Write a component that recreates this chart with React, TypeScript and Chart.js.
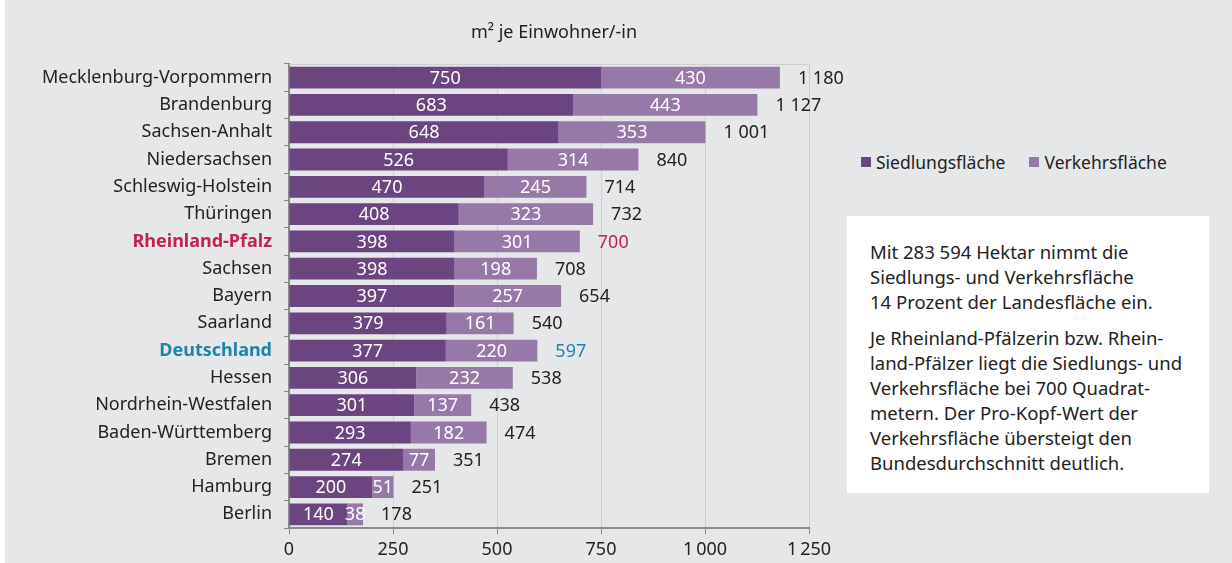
import React, { useEffect, useRef } from "react";
import { Chart, registerables } from "chart.js";

Chart.register(...registerables);

const categories = [
  "Mecklenburg-Vorpommern",
  "Brandenburg",
  "Sachsen-Anhalt",
  "Niedersachsen",
  "Schleswig-Holstein",
  "Thüringen",
  "Rheinland-Pfalz",
  "Sachsen",
  "Bayern",
  "Saarland",
  "Deutschland",
  "Hessen",
  "Nordrhein-Westfalen",
  "Baden-Württemberg",
  "Bremen",
  "Hamburg",
  "Berlin",
];
const siedlung = [750, 683, 648, 526, 470, 408, 398, 398, 397, 379, 377, 306, 301, 293, 274, 200, 140];
const verkehr = [430, 443, 353, 314, 245, 323, 301, 198, 257, 161, 220, 232, 137, 182, 77, 51, 38];
const totalLabels = ["1 180", "1 127", "1 001", "840", "714", "732", "700", "708", "654", "540", "597", "538", "438", "474", "351", "251", "178"];
const xTicks = [0, 250, 500, 750, 1000, 1250];
const seriesNames = ["Siedlungsfläche", "Verkehrsfläche"];
const titleText = "m² je Einwohner/-in";

const FONT = "'Noto Sans', 'Open Sans', sans-serif";
const DARK = "#6a4580";
const LIGHT = "#9679a6";
const RED = "#c2244f";
const BLUE = "#1c84ad";
const TEXT = "#222222";

function labelColor(name: string) {
  if (name === "Rheinland-Pfalz") return RED;
  if (name === "Deutschland") return BLUE;
  return TEXT;
}

const fmt = (v: number) => (v >= 1000 ? String(v).replace(/(\d)(\d{3})$/, "$1\u2009$2") : String(v));

const labelPlugin = {
  id: "labels",
  afterDatasetsDraw(chart: any) {
    const ctx = chart.ctx;
    ctx.save();
    ctx.textBaseline = "middle";
    ctx.font = `18px ${FONT}`;
    chart.data.datasets.forEach((ds: any, di: number) => {
      const meta = chart.getDatasetMeta(di);
      meta.data.forEach((bar: any, i: number) => {
        const x = (bar.x + bar.base) / 2;
        ctx.fillStyle = "#ffffff";
        ctx.textAlign = "center";
        ctx.fillText(String(ds.data[i]), x, bar.y + 1);
      });
    });
    const meta1 = chart.getDatasetMeta(1);
    meta1.data.forEach((bar: any, i: number) => {
      ctx.fillStyle = labelColor(categories[i]);
      ctx.textAlign = "left";
      ctx.fillText(totalLabels[i], bar.x + 18, bar.y + 1);
    });
    const area = chart.chartArea;
    ctx.fillStyle = TEXT;
    ctx.textAlign = "center";
    ctx.font = `18px ${FONT}`;
    ctx.fillText(titleText, (area.left + area.right) / 2 + 5, 33);
    ctx.strokeStyle = "#cfcfd1";
    ctx.lineWidth = 1;
    ctx.beginPath();
    ctx.moveTo(area.left, area.top + 0.5);
    ctx.lineTo(area.right, area.top + 0.5);
    ctx.stroke();
    ctx.restore();
  },
};

export default function App() {
  const ref = useRef<HTMLCanvasElement>(null);
  useEffect(() => {
    const chart = new Chart(ref.current!, {
      type: "bar",
      data: {
        labels: categories,
        datasets: [
          { label: seriesNames[0], data: siedlung, backgroundColor: DARK, borderWidth: 0, barPercentage: 0.8, categoryPercentage: 1 },
          { label: seriesNames[1], data: verkehr, backgroundColor: LIGHT, borderWidth: 0, barPercentage: 0.8, categoryPercentage: 1 },
        ],
      },
      options: {
        indexAxis: "y",
        animation: false,
        responsive: false,
        maintainAspectRatio: false,
        layout: { padding: { top: 64, right: 51, left: 0, bottom: 0 } },
        plugins: { legend: { display: false }, tooltip: { enabled: false }, title: { display: false } },
        scales: {
          x: {
            stacked: true,
            min: 0,
            max: 1250,
            afterBuildTicks: (s: any) => { s.ticks = xTicks.map((v) => ({ value: v })); },
            afterFit: (s: any) => { s.height = 35; },
            grid: { color: "#cdced0", lineWidth: 1, drawTicks: true, tickLength: 6, tickColor: "#8a8a8a" },
            border: { color: "#8a8a8a", width: 2 },
            ticks: { color: TEXT, font: { family: FONT, size: 18 }, padding: 5, callback: (v: any) => fmt(Number(v)) },
          },
          y: {
            stacked: true,
            afterFit: (s: any) => { s.width = 289; },
            grid: { display: true, drawOnChartArea: false, offset: true, tickLength: 5, tickColor: "#8a8a8a" },
            border: { color: "#8a8a8a", width: 2 },
            ticks: {
              padding: 12,
              font: (c: any) => ({ family: FONT, size: 18, weight: (categories[c.index] === "Rheinland-Pfalz" || categories[c.index] === "Deutschland") ? "bold" : "normal" }),
              color: (c: any) => labelColor(categories[c.index]),
            },
          },
        },
      } as any,
      plugins: [labelPlugin],
    });
    return () => chart.destroy();
  }, []);

  const textStyle: React.CSSProperties = { margin: 0, fontFamily: FONT, fontSize: 18.5, lineHeight: "25px", color: TEXT, whiteSpace: "nowrap" };
  return (
    <div style={{ position: "fixed", left: 0, top: 0, width: 1232, height: 563, background: "#ffffff", overflow: "hidden" }}>
      <div style={{ position: "absolute", left: 5, top: 0, width: 1227, height: 563, background: "#e6e7e9" }} />
      <canvas ref={ref} width={860} height={563} style={{ position: "absolute", left: 0, top: 0 }} />
      <div style={{ position: "absolute", left: 861, top: 150, display: "flex", alignItems: "center", fontFamily: FONT, fontSize: 17.5, color: TEXT, whiteSpace: "nowrap" }}>
        <span style={{ display: "inline-block", width: 10, height: 10, background: DARK, marginRight: 5 }} />
        <span>{seriesNames[0]}</span>
        <span style={{ display: "inline-block", width: 10, height: 10, background: LIGHT, marginLeft: 24, marginRight: 5 }} />
        <span>{seriesNames[1]}</span>
      </div>
      <div style={{ position: "absolute", left: 847, top: 216, width: 362, height: 277, background: "#ffffff", boxSizing: "border-box", padding: "23px 0 0 23px" }}>
        <p style={textStyle}>Mit 283 594 Hektar nimmt die<br />Siedlungs- und Verkehrsfläche<br />14 Prozent der Landesfläche ein.</p>
        <p style={{ ...textStyle, marginTop: 11 }}>Je Rheinland-Pfälzerin bzw. Rhein-<br />land-Pfälzer liegt die Siedlungs- und<br />Verkehrsfläche bei 700 Quadrat-<br />metern. Der Pro-Kopf-Wert der<br />Verkehrsfläche übersteigt den<br />Bundesdurchschnitt deutlich.</p>
      </div>
    </div>
  );
}
